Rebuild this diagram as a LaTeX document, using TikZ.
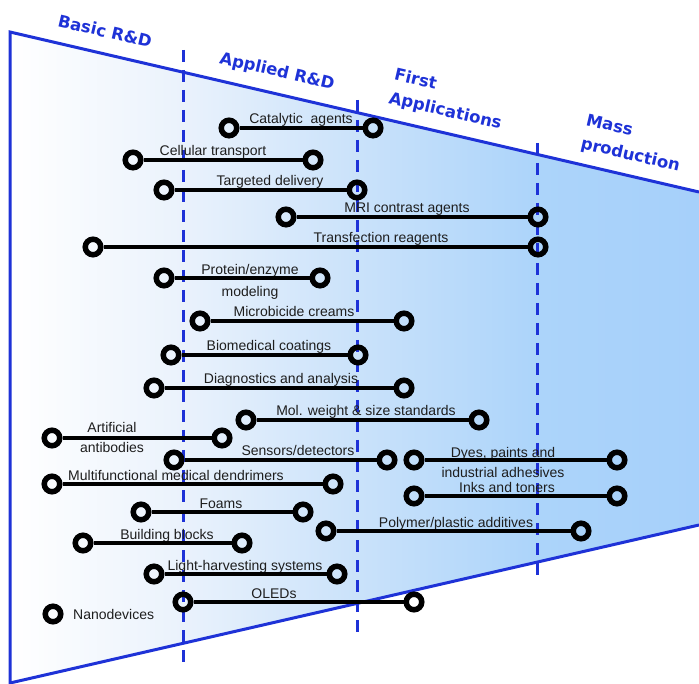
\documentclass[tikz,border=0pt]{standalone}
\usepackage{fontspec}
\setmainfont{Liberation Sans}
\newfontfamily\stagefont{DejaVu Sans}
\definecolor{stageblue}{RGB}{30,50,215}
\definecolor{fillA}{RGB}{234,242,252}
\definecolor{fillB}{RGB}{202,226,250}
\definecolor{fillC}{RGB}{172,212,250}
\definecolor{fillD}{RGB}{166,208,250}
\definecolor{labeltext}{RGB}{30,30,30}

\begin{document}
\begin{tikzpicture}[x=1pt, y=-1pt]
	\tikzset{ring/.style={circle, draw=black, line width=5.5pt, minimum size=15.5pt, inner sep=0pt},
	lbl/.style={text=labeltext, font=\fontsize{14}{20}\selectfont, inner sep=0pt, align=center, anchor=base},
	stage/.style={text=stageblue, font=\stagefont\bfseries\fontsize{16.5}{24}\selectfont, rotate=-13.1, align=left, inner sep=0pt},
	phase/.style={stageblue, line width=3pt, dash pattern=on 12pt off 8pt}};
	\useasboundingbox (0,0) rectangle (699,684);

	% funnel
	\begin{scope}
		\clip (10,32) -- (699,192) -- (699,525) -- (10,683) -- cycle;
		\shade[left color=white, right color=fillA] (10,0) rectangle (183,684);
		\shade[left color=fillA, right color=fillB] (183,0) rectangle (357,684);
		\shade[left color=fillB, right color=fillC] (357,0) rectangle (537,684);
		\shade[left color=fillC, right color=fillD] (537,0) rectangle (699,684);
	\end{scope}
	\draw[stageblue, line width=3pt] (699,192) -- (10,32) -- (10,683) -- (699,525);

	\draw[phase] (183,50) -- (183,667);
	\draw[phase] (357,100) -- (357,634);
	\draw[phase] (537,143) -- (537,580);

	\node[stage] (basic) at (105,31) {Basic R\&D};
	\node[stage] (applied) at (277,72) {Applied R\&D};
	\node[stage] (first) at (448,100) {First\\Applications};
	\node[stage] (mass) at (633,144) {Mass\\production};

	% \yt = baseline of the last text line
	\foreach \i/\xa/\xb/\y/\xt/\yt/\txt in {1/229/373/128/301/124/{Catalytic\ \ agents},
		2/133/313/160/213/156/{Cellular transport}, 3/164/357/190/270/186/{Targeted delivery},
		4/286/538/217/407/213/{MRI contrast agents}, 5/93/538/247/381/243/{Transfection reagents},
		6/164/320/278/250/297/{Protein/enzyme\\[2pt]modeling}, 7/200/404/321/294/317/{Microbicide creams},
		8/171/358/355/269/351/{Biomedical coatings}, 9/154/404/388/281/384/{Diagnostics and analysis},
		10/246/479/420/366/416/{Mol. weight \& size standards}, 11/52/222/438/112/453/{Artificial\\antibodies},
		12/174/387/460/298/456/{Sensors/detectors}, 13/414/617/460/503/477/{Dyes, paints and\\industrial adhesives},
		14/52/333/484/176/480/{Multifunctional medical dendrimers}, 15/414/617/496/507/492/{Inks and toners},
		16/141/303/512/221/508/{Foams}, 17/326/581/531/456/527/{Polymer/plastic additives},
		18/83/242/543/167/539/{Building blocks}, 19/154/337/574/245/570/{Light-harvesting systems},
		20/183/414/602/274/598/{OLEDs}} {
		\node[lbl] (t\i) at (\xt,\yt) {\txt};
		\node[ring] (a\i) at (\xa,\y) {};
		\node[ring] (b\i) at (\xb,\y) {};
		\draw[line width=3.5pt] (a\i) -- (b\i);
	}

	\node[ring] (nano) at (53,614) {};
	\node[lbl, anchor=west] (tnano) at (73,614) {Nanodevices};
\end{tikzpicture}
\end{document}
